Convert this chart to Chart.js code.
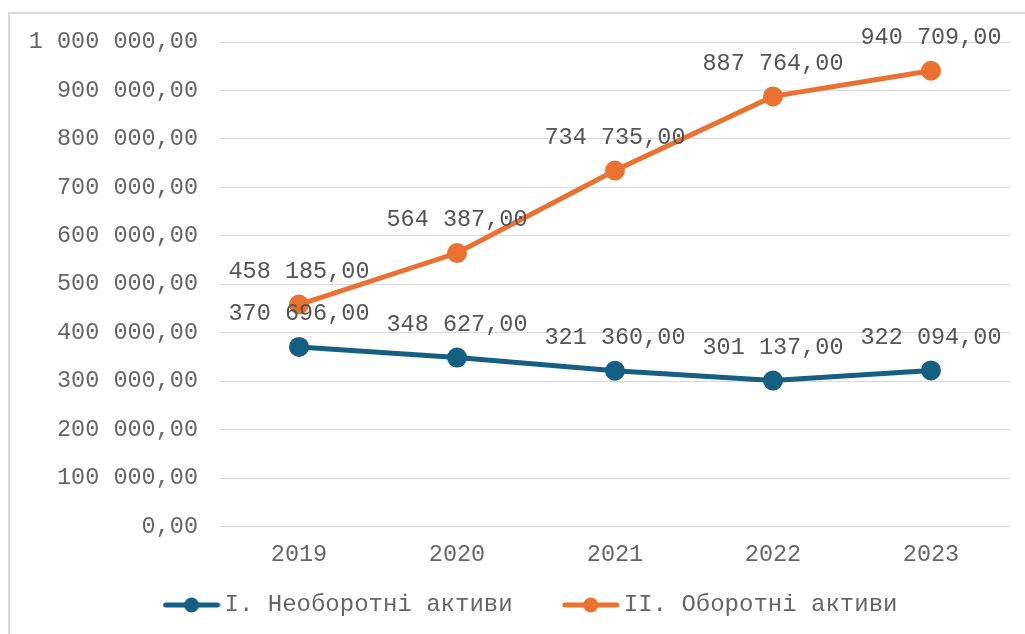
<!DOCTYPE html>
<html>
<head>
<meta charset="utf-8">
<script src="https://cdn.jsdelivr.net/npm/chart.js@4.4.1/dist/chart.umd.min.js"></script>
<style>
  html, body { margin: 0; padding: 0; background: #fff; }
  #wrap { position: absolute; left: 8px; top: 12px; width: 1017px; height: 622px;
          border-left: 2px solid #d9d9d9; border-top: 2px solid #d9d9d9; }
  canvas { display: block; }
</style>
</head>
<body>
<div id="wrap"><canvas id="c" width="1015" height="620"></canvas></div>
<script>
const categories = ['2019', '2020', '2021', '2022', '2023'];
const seriesNames = ['I. Необоротні активи', 'II. Оборотні активи'];
const nonCurrent = [370696, 348627, 321360, 301137, 322094];
const current = [458185, 564387, 734735, 887764, 940709];
const yTicks = [0, 100000, 200000, 300000, 400000, 500000, 600000, 700000, 800000, 900000, 1000000];

const FONT = '"Courier New", "Liberation Mono", monospace';
const FS = 23.5;
const BLUE = '#156082';
const ORANGE = '#E97132';
const TXT = '#666666';

function fmt(v) {
  const s = Math.round(v).toString().replace(/\B(?=(\d{3})+(?!\d))/g, ' ');
  return s + ',00';
}

function legendMarker(color) {
  const c = document.createElement('canvas');
  c.width = 58; c.height = 18;
  const g = c.getContext('2d');
  g.strokeStyle = color; g.lineWidth = 5; g.lineCap = 'round';
  g.beginPath(); g.moveTo(3, 9); g.lineTo(55, 9); g.stroke();
  g.fillStyle = color;
  g.beginPath(); g.arc(29, 9, 7.5, 0, Math.PI * 2); g.fill();
  return c;
}
const markers = [legendMarker(BLUE), legendMarker(ORANGE)];

const dataLabels = {
  id: 'dataLabels',
  afterLayout(chart) {
    if (chart.legend) { chart.legend.left += 24; chart.legend.right += 24; }
  },
  afterDatasetsDraw(chart) {
    const ctx = chart.ctx;
    ctx.save();
    ctx.font = FS + 'px ' + FONT;
    ctx.fillStyle = '#555555';
    ctx.textAlign = 'center';
    ctx.textBaseline = 'middle';
    chart.data.datasets.forEach((ds, i) => {
      const meta = chart.getDatasetMeta(i);
      meta.data.forEach((pt, j) => {
        ctx.fillText(fmt(ds.data[j]), pt.x, pt.y - 33);
      });
    });
    ctx.restore();
  }
};

new Chart(document.getElementById('c'), {
  type: 'line',
  data: {
    labels: categories,
    datasets: [
      { label: seriesNames[0], data: nonCurrent, borderColor: BLUE, backgroundColor: BLUE,
        borderWidth: 5, pointRadius: 7.5, pointHoverRadius: 7.5, pointBackgroundColor: BLUE,
        pointBorderColor: BLUE, tension: 0 },
      { label: seriesNames[1], data: current, borderColor: ORANGE, backgroundColor: ORANGE,
        borderWidth: 5, pointRadius: 7.5, pointHoverRadius: 7.5, pointBackgroundColor: ORANGE,
        pointBorderColor: ORANGE, tension: 0 }
    ]
  },
  options: {
    responsive: false,
    animation: false,
    layout: { padding: { top: 28, right: 15, bottom: 7, left: 0 } },
    scales: {
      x: {
        offset: true,
        afterFit(s) { s.height = 52.5; },
        grid: { display: false, drawTicks: false },
        border: { display: false },
        ticks: { color: TXT, font: { family: FONT, size: FS }, padding: 14 }
      },
      y: {
        min: 0, max: 1000000,
        afterFit(s) { s.width = 210; s.paddingTop = 10; s.paddingBottom = 10; },
        afterBuildTicks(s) { s.ticks = yTicks.map(v => ({ value: v })); },
        grid: { color: '#d9d9d9', lineWidth: 1, drawTicks: false },
        border: { display: false },
        ticks: { color: TXT, font: { family: FONT, size: FS }, padding: 22,
                 callback: v => fmt(v) }
      }
    },
    plugins: {
      legend: {
        position: 'bottom',
        labels: {
          color: TXT,
          font: { family: FONT, size: 24 },
          usePointStyle: true,
          pointStyleWidth: 42,
          padding: 14,
          generateLabels(chart) {
            return chart.data.datasets.map((ds, i) => ({
              text: ds.label + (i === 0 ? '   ' : ''), pointStyle: markers[i], fillStyle: ds.borderColor,
              strokeStyle: ds.borderColor, lineWidth: 0, hidden: false, datasetIndex: i,
              fontColor: TXT
            }));
          }
        }
      },
      tooltip: { enabled: false }
    }
  },
  plugins: [dataLabels]
});
</script>
</body>
</html>
